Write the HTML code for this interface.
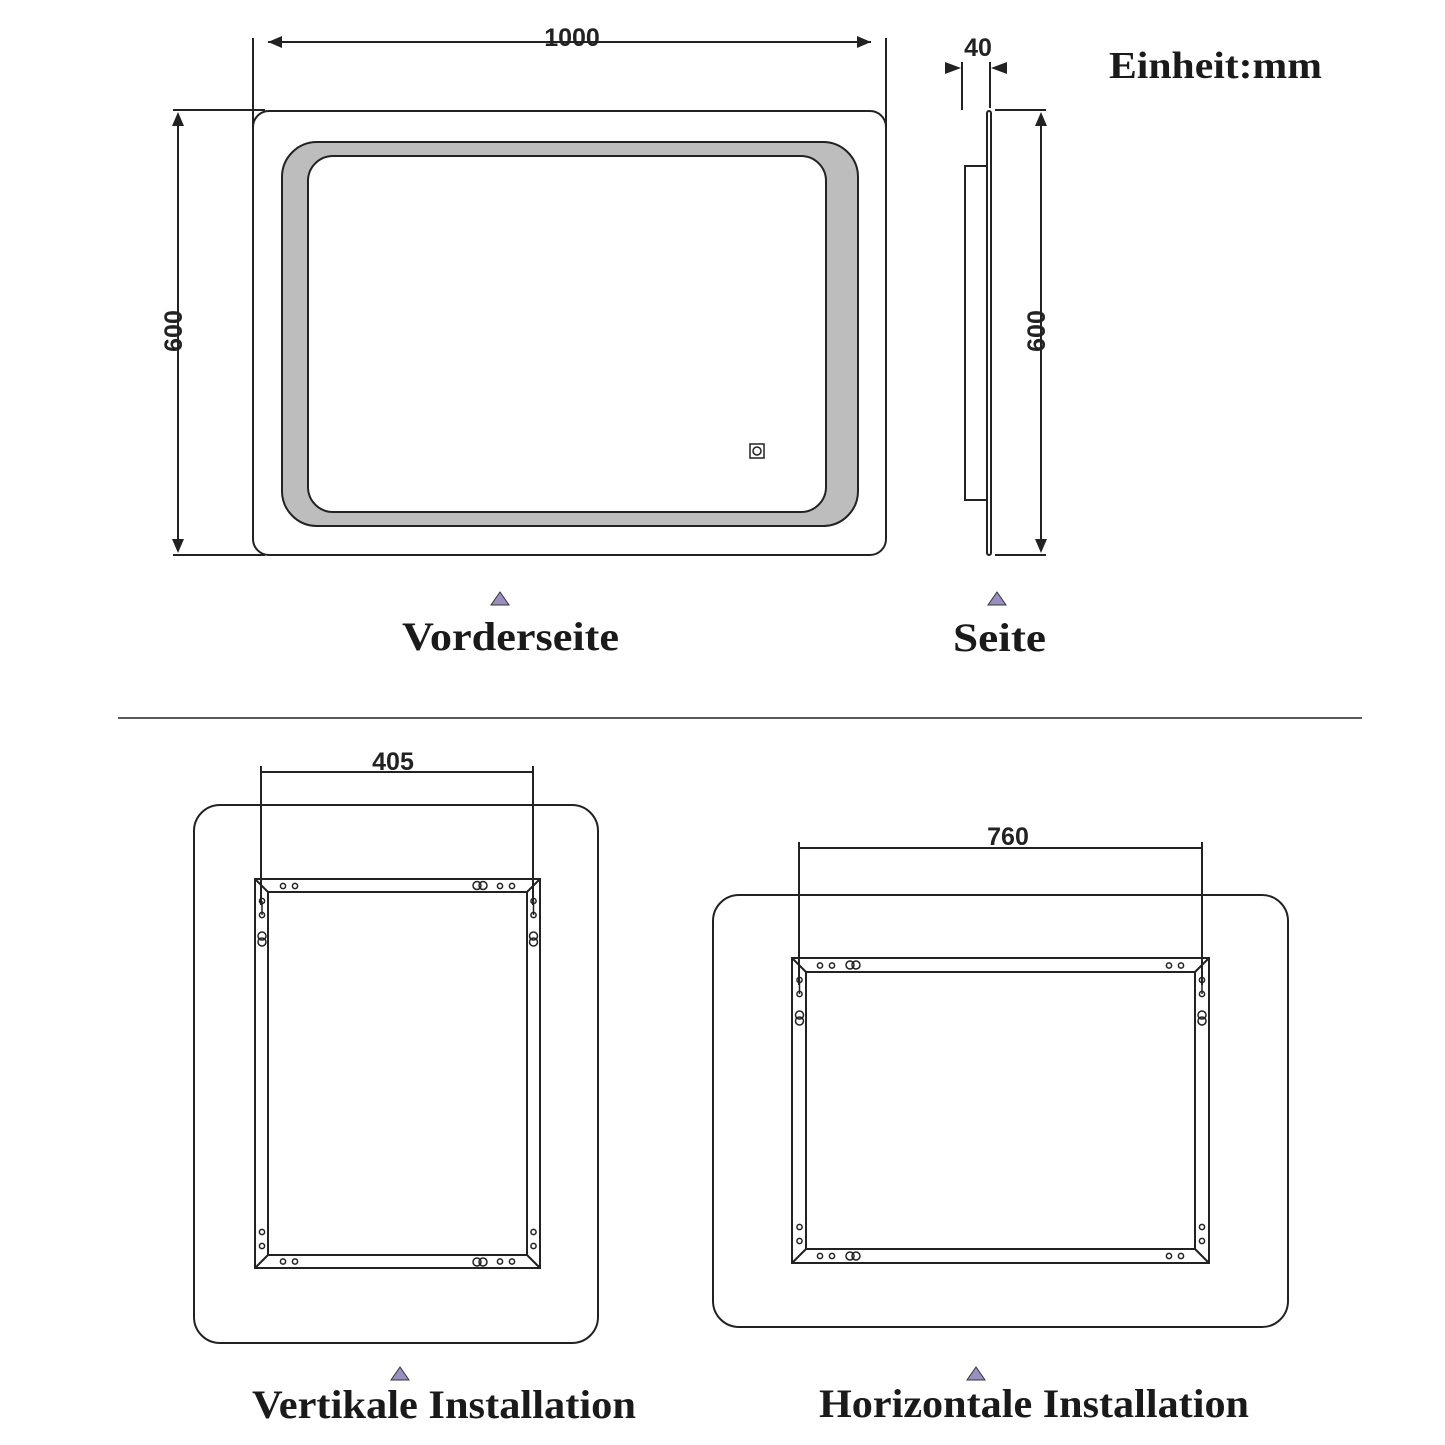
<!DOCTYPE html>
<html><head><meta charset="utf-8"><style>html,body{margin:0;padding:0;background:#fff}svg{display:block}</style></head>
<body>
<svg id="s" width="1445" height="1445" viewBox="0 0 1445 1445" xmlns="http://www.w3.org/2000/svg">
<g stroke="#222" stroke-width="2" fill="none">
<line x1="253" y1="38" x2="253" y2="128"/>
<line x1="886" y1="38" x2="886" y2="128"/>
<line x1="268" y1="42" x2="871" y2="42" />
<path d="M268,42 l14,-6 v12z M871,42 l-14,-6 v12z" fill="#222" stroke="none"/>
<line x1="173" y1="110" x2="265" y2="110"/>
<line x1="173" y1="555" x2="265" y2="555"/>
<line x1="178" y1="124" x2="178" y2="541"/>
<path d="M178,112 l-6,14 h12z M178,553 l-6,-14 h12z" fill="#222" stroke="none"/>
<rect x="253" y="111" width="633" height="444" rx="16"/>
<path fill="#bdbdbd" fill-rule="evenodd" d="M317,142 H823 A35,35 0 0 1 858,177 V491 A35,35 0 0 1 823,526 H317 A35,35 0 0 1 282,491 V177 A35,35 0 0 1 317,142 Z M333,156 H801 A25,25 0 0 1 826,181 V487 A25,25 0 0 1 801,512 H333 A25,25 0 0 1 308,487 V181 A25,25 0 0 1 333,156 Z"/>
<rect x="750" y="444" width="14" height="14" stroke-width="1.5"/>
<circle cx="757" cy="451" r="4" stroke-width="1.5"/>
<line x1="962" y1="62" x2="962" y2="110"/>
<line x1="990" y1="62" x2="990" y2="108"/>
<path d="M961,68 l-16,-6 v12z M991,68 l16,-6 v12z" fill="#222" stroke="none"/>
<rect x="987" y="111" width="4" height="444" rx="2"/>
<rect x="965" y="166" width="22" height="334"/>
<line x1="995" y1="110" x2="1046" y2="110"/>
<line x1="995" y1="555" x2="1046" y2="555"/>
<line x1="1041" y1="124" x2="1041" y2="541"/>
<path d="M1041,112 l-6,14 h12z M1041,553 l-6,-14 h12z" fill="#222" stroke="none"/>
<line x1="118" y1="718" x2="1362" y2="718" stroke-width="1.5"/>
<rect x="194" y="805" width="404" height="538" rx="26"/>
<rect x="713" y="895" width="575" height="432" rx="26"/>
<line x1="261" y1="766" x2="261" y2="905"/>
<line x1="533" y1="766" x2="533" y2="905"/>
<line x1="261" y1="772" x2="533" y2="772"/>
<line x1="799" y1="842" x2="799" y2="985"/>
<line x1="1202" y1="842" x2="1202" y2="985"/>
<line x1="799" y1="848" x2="1202" y2="848"/>
</g>
<g id="frames" stroke="#222" stroke-width="2" fill="none"></g>
<g fill="#222" font-family="Liberation Sans, sans-serif" font-weight="bold" font-size="25" text-anchor="middle">
<text x="572" y="46">1000</text>
<text x="978" y="56">40</text>
<text transform="translate(182,331) rotate(-90)">600</text>
<text transform="translate(1045,331) rotate(-90)">600</text>
<text x="393" y="770">405</text>
<text x="1008" y="845">760</text>
</g>
<g fill="#9a8fc0" stroke="#333" stroke-width="1">
<path d="M500,592 l-9,13 h18z"/>
<path d="M997,592 l-9,13 h18z"/>
<path d="M400,1367 l-9,13 h18z"/>
<path d="M976,1367 l-9,13 h18z"/>
</g>
<g fill="#1a1a1a" font-family="Liberation Serif, serif" font-weight="bold" font-size="40">
<text x="402" y="650" textLength="217" lengthAdjust="spacingAndGlyphs">Vorderseite</text>
<text x="953" y="651" textLength="93" lengthAdjust="spacingAndGlyphs">Seite</text>
<text x="252" y="1418" textLength="384" lengthAdjust="spacingAndGlyphs">Vertikale Installation</text>
<text x="819" y="1417" textLength="430" lengthAdjust="spacingAndGlyphs">Horizontale Installation</text>
<text x="1109" y="78" font-size="38" textLength="213" lengthAdjust="spacingAndGlyphs">Einheit:mm</text>
</g>
</svg>
<script>
var g=document.getElementById('frames'),NS='http://www.w3.org/2000/svg';
function el(n,a){var e=document.createElementNS(NS,n);for(var k in a)e.setAttribute(k,a[k]);g.appendChild(e);return e;}
function c(x,y){el('circle',{cx:x,cy:y,r:2.6,'stroke-width':1.5});}
function kh(x,y,h){ if(h){el('circle',{cx:x-3,cy:y,r:4,'stroke-width':1.5});el('circle',{cx:x+3,cy:y,r:4,'stroke-width':1.5});}
 else{el('circle',{cx:x,cy:y-3,r:4,'stroke-width':1.5});el('circle',{cx:x,cy:y+3,r:4,'stroke-width':1.5});}}
function frame(x1,y1,x2,y2,t){
 el('rect',{x:x1,y:y1,width:x2-x1,height:y2-y1});
 el('rect',{x:x1+t,y:y1+t,width:x2-x1-2*t,height:y2-y1-2*t});
 el('line',{x1:x1,y1:y1,x2:x1+t,y2:y1+t});el('line',{x1:x2,y1:y1,x2:x2-t,y2:y1+t});
 el('line',{x1:x1,y1:y2,x2:x1+t,y2:y2-t});el('line',{x1:x2,y1:y2,x2:x2-t,y2:y2-t});
 var my=y1+t/2+0.5, by=y2-t/2, lx=x1+t/2+0.5, rx=x2-t/2;
 c(x1+28,my);c(x1+40,my);c(x2-40,my);c(x2-28,my);
 c(x1+28,by);c(x1+40,by);c(x2-40,by);c(x2-28,by);
 c(lx,y1+22);c(lx,y1+36);c(rx,y1+22);c(rx,y1+36);
 c(lx,y2-36);c(lx,y2-22);c(rx,y2-36);c(rx,y2-22);
 el('line',{x1:lx,y1:y1+22,x2:lx,y2:y1+36,'stroke-width':1.5});
 el('line',{x1:rx,y1:y1+22,x2:rx,y2:y1+36,'stroke-width':1.5});
 kh(lx,y1+60,false);kh(rx,y1+60,false);
}
frame(255,879,540,1268,13);
kh(480,885.5,true);kh(480,1262,true);
frame(792,958,1209,1263,14);
kh(853,965,true);kh(853,1256,true);
</script>
</body></html>
